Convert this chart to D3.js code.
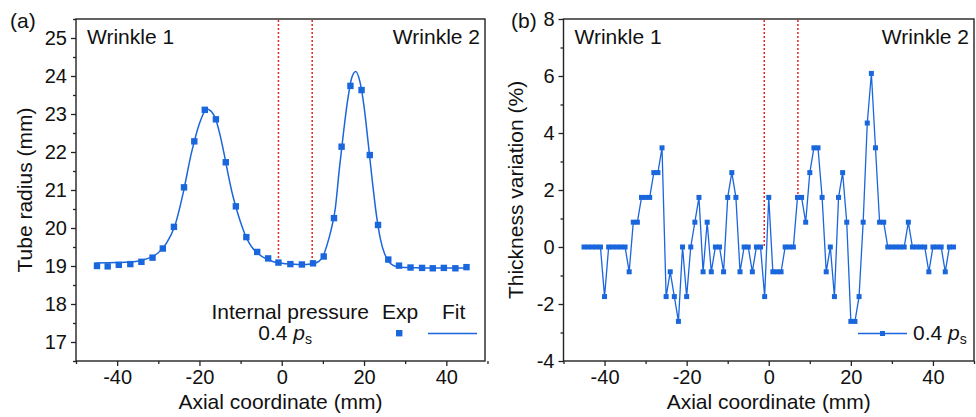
<!DOCTYPE html>
<html lang="en">
  <head>
    <meta charset="utf-8">
    <title>Tube radius and thickness variation</title>
    <script src="https://d3js.org/d3.v7.min.js"></script>
    <style media="screen">
      body{ margin: 0; background: #fff; }
      svg text{ font-family: "Liberation Sans", Arial, sans-serif; fill: #111; }
    </style>
  </head>
  <body>
    <script type="text/javascript">

      // ---- (a) tube radius, experiment points ----
      let expX = [-44.9,-42.3,-39.6,-36.8,-34.1,-31.4,-28.9,-26.2,-23.75,-21.25,-18.7,-16.0,-13.6,-11.15,-8.6,-5.97,-3.3,-0.8,
                  2.1,4.9,7.6,10.2,12.7,14.55,16.7,19.4,21.4,23.4,25.9,28.5,31.3,34.1,36.7,39.4,42.2,44.9];
      let expR = [19.0,18.99,19.03,19.05,19.11,19.22,19.46,20.03,21.07,22.28,23.11,22.86,21.73,20.57,19.76,19.37,19.2,19.09,
                  19.05,19.04,19.07,19.25,20.26,22.14,23.74,23.63,21.92,20.08,19.17,19.01,18.96,18.95,18.94,18.95,18.94,18.97];

      // fit curve
      let fitX = [-45.5,-40,-36,-34,-32,-30,-28,-26,-24,-22,-20,-19,-18.4,-17,-16,-15,-14,-13,-12,-11,-10,-9,-8,-7,-6,-4,-2,0,2,4,6,
                  7,8,9,10,11,12,13,14,15,16,17,18,19,20,21,22,23,24,25,26,27,28,30,35,40,45];
      let fitR = [19.08,19.09,19.11,19.15,19.22,19.35,19.6,20.05,20.9,21.95,22.75,23.02,23.14,23.05,22.85,22.45,21.95,21.4,20.9,20.5,20.15,19.85,19.62,19.46,19.35,19.2,19.11,19.07,19.05,19.04,19.04,
                  19.05,19.07,19.12,19.25,19.55,19.95,20.5,21.55,22.5,23.35,23.95,24.12,23.85,23.2,22.25,21.25,20.35,19.7,19.32,19.12,19.02,18.98,18.96,18.95,18.95,18.95];

      // ---- (b) thickness variation ----
      let thickX = [-45,-44,-43,-42,-41,-40,-39,-38,-37,-36,-35,-34,-33,-32,-31,-30,-29,-28,-27,-26,-25,-24,-23,-22,-21,-20,
                    -19,-18,-17,-16,-15,-14,-13,-12,-11,-10,-9,-8,-7,-6,-5,-4,-3,-2,-1,0,1,2,3,4,5,6,7,8,9,10,
                    11,12,13,14,15,16,17,18,19,20,21,22,23,24,25,26,27,28,29,30,31,32,33,34,35,36,37,38,39,40,41,42,43,44,45];
      let thickV = [0,0,0,0,0,-1.74,0,0,0,0,0,-0.87,0.87,0.87,1.74,1.74,1.74,2.61,2.61,3.48,-1.74,-0.87,-1.74,-2.61,0,-1.74,
                    0,0.87,1.74,-0.87,0.87,-0.87,0,0,-0.87,1.74,2.61,1.74,-0.87,0,0,-0.87,0,0,-1.74,1.74,-0.87,-0.87,-0.87,0,0,0,1.74,1.74,0.87,2.61,
                    3.48,3.48,1.74,-0.87,0,-1.74,1.74,2.61,0.87,-2.61,-2.61,-1.74,0.87,4.35,6.09,3.48,0.87,0.87,0,0,0,0,0,0.87,0,0,0,0,-0.87,0,0,0,-0.87,0,0];

      // wrinkle boundaries (red dotted) and where they meet the data
      let boundA = [-0.8, 7.4], boundAEnd = [19.08, 19.06];
      let boundB = [-1.1, 7.1], boundBEnd = [0, 1.74];

      let xTicks = [-40,-20,0,20,40];
      let rTicks = [17,18,19,20,21,22,23,24,25];
      let tTicks = [-4,-2,0,2,4,6,8];

      let blue = "#1a66dd";

      let svg = d3.select("body").append("svg")
                  .attr("width", 976)
                  .attr("height", 417);

      function panel(box, xDom, yDom, yTicks, yMinor, xlabel, ylabel, tag){
        let x = d3.scaleLinear().domain(xDom).range([box.left, box.right]);
        let y = d3.scaleLinear().domain(yDom).range([box.bottom, box.top]);
        let g = svg.append("g");
        let fmt = d => String(d);   // plain hyphen, like the original

        // minor + major ticks, pointing outward
        g.append("g").attr("transform", "translate(0," + box.bottom + ")")
          .call(d3.axisBottom(x).tickValues(d3.range(-50, 51, 10).filter(v => xTicks.indexOf(v) < 0)).tickSize(3).tickFormat(""))
          .call(a => a.select(".domain").remove());
        g.append("g").attr("transform", "translate(0," + box.bottom + ")")
          .call(d3.axisBottom(x).tickValues(xTicks).tickSize(5).tickPadding(4).tickFormat(fmt))
          .call(a => a.select(".domain").remove());
        g.append("g").attr("transform", "translate(" + box.left + ",0)")
          .call(d3.axisLeft(y).tickValues(yMinor).tickSize(3).tickFormat(""))
          .call(a => a.select(".domain").remove());
        g.append("g").attr("transform", "translate(" + box.left + ",0)")
          .call(d3.axisLeft(y).tickValues(yTicks).tickSize(5).tickPadding(4).tickFormat(fmt))
          .call(a => a.select(".domain").remove());

        g.selectAll(".tick line").attr("stroke", "#222").attr("stroke-width", 1.3);
        g.selectAll(".tick text").attr("font-size", 20).attr("font-family", "Liberation Sans, Arial, sans-serif").attr("fill", "#111");

        g.append("rect")
          .attr("x", box.left).attr("y", box.top)
          .attr("width", box.right - box.left).attr("height", box.bottom - box.top)
          .attr("fill", "none").attr("stroke", "#222").attr("stroke-width", 1.4);

        g.append("text").attr("x", (box.left + box.right) / 2).attr("y", 409)
          .attr("text-anchor", "middle").attr("font-size", 21).text(xlabel);
        g.append("text")
          .attr("transform", "translate(" + box.ylabX + "," + (box.top + box.bottom) / 2 + ") rotate(-90)")
          .attr("text-anchor", "middle").attr("font-size", 21).text(ylabel);
        g.append("text").attr("x", box.tagX).attr("y", 28).attr("font-size", 21).text(tag);

        g.append("text").attr("x", box.left + 11).attr("y", 44).attr("font-size", 21).text("Wrinkle 1");
        g.append("text").attr("x", box.right - 5).attr("y", 44).attr("text-anchor", "end").attr("font-size", 21).text("Wrinkle 2");

        return {x: x, y: y, g: g};
      }

      // ---------------- panel (a) ----------------
      let A = panel({left: 76, right: 485, top: 19, bottom: 361, ylabX: 32, tagX: 10},
                    [-50, 49.4], [16.5, 25.5], rTicks, d3.range(16.5, 25.6, 1),
                    "Axial coordinate (mm)", "Tube radius (mm)", "(a)");

      A.g.selectAll(".bound").data(boundA).enter().append("line")
        .attr("x1", d => A.x(d)).attr("x2", d => A.x(d))
        .attr("y1", 20).attr("y2", (d, i) => A.y(boundAEnd[i]))
        .attr("stroke", "#ee2222").attr("stroke-width", 1.5).attr("stroke-dasharray", "2,2");

      let fitLine = d3.line().x((d, i) => A.x(fitX[i])).y(d => A.y(d)).curve(d3.curveMonotoneX);
      A.g.append("path").datum(fitR).attr("d", fitLine)
        .attr("fill", "none").attr("stroke", blue).attr("stroke-width", 1.5);

      A.g.selectAll(".exp").data(expR).enter().append("rect")
        .attr("x", (d, i) => A.x(expX[i]) - 3.2).attr("y", d => A.y(d) - 3.2)
        .attr("width", 6.4).attr("height", 6.4).attr("fill", blue);

      // legend (a)
      let la = A.g.append("g");
      la.append("text").attr("x", 369).attr("y", 319).attr("text-anchor", "end").attr("font-size", 21).text("Internal pressure");
      la.append("text").attr("x", 382).attr("y", 319).attr("font-size", 21).text("Exp");
      la.append("text").attr("x", 442).attr("y", 319).attr("font-size", 21).text("Fit");
      let lp = la.append("text").attr("x", 312).attr("y", 340).attr("text-anchor", "end").attr("font-size", 21);
      lp.append("tspan").text("0.4 ");
      lp.append("tspan").attr("font-style", "italic").text("p");
      lp.append("tspan").attr("font-size", 14).attr("dy", 4).text("s");
      la.append("rect").attr("x", 396).attr("y", 330).attr("width", 6.4).attr("height", 6.4).attr("fill", blue);
      la.append("line").attr("x1", 428).attr("x2", 477).attr("y1", 333.5).attr("y2", 333.5)
        .attr("stroke", blue).attr("stroke-width", 1.5);

      // ---------------- panel (b) ----------------
      let B = panel({left: 563.5, right: 974, top: 19, bottom: 361, ylabX: 523, tagX: 511},
                    [-50, 50], [-4, 8], tTicks, d3.range(-3, 8, 2),
                    "Axial coordinate (mm)", "Thickness variation (%)", "(b)");

      B.g.selectAll(".bound").data(boundB).enter().append("line")
        .attr("x1", d => B.x(d)).attr("x2", d => B.x(d))
        .attr("y1", 20).attr("y2", (d, i) => B.y(boundBEnd[i]))
        .attr("stroke", "#ee2222").attr("stroke-width", 1.5).attr("stroke-dasharray", "2,2");

      let tLine = d3.line().x((d, i) => B.x(thickX[i])).y(d => B.y(d));
      B.g.append("path").datum(thickV).attr("d", tLine)
        .attr("fill", "none").attr("stroke", blue).attr("stroke-width", 1.3);

      B.g.selectAll(".pt").data(thickV).enter().append("rect")
        .attr("x", (d, i) => B.x(thickX[i]) - 2.5).attr("y", d => B.y(d) - 2.5)
        .attr("width", 5).attr("height", 5).attr("fill", blue);

      // legend (b)
      let lb = B.g.append("g");
      lb.append("line").attr("x1", 858).attr("x2", 907).attr("y1", 333.5).attr("y2", 333.5)
        .attr("stroke", blue).attr("stroke-width", 1.3);
      lb.append("rect").attr("x", 880).attr("y", 331).attr("width", 5).attr("height", 5).attr("fill", blue);
      let lq = lb.append("text").attr("x", 913).attr("y", 340).attr("font-size", 21);
      lq.append("tspan").text("0.4 ");
      lq.append("tspan").attr("font-style", "italic").text("p");
      lq.append("tspan").attr("font-size", 14).attr("dy", 4).text("s");

    </script>
  </body>
</html>
